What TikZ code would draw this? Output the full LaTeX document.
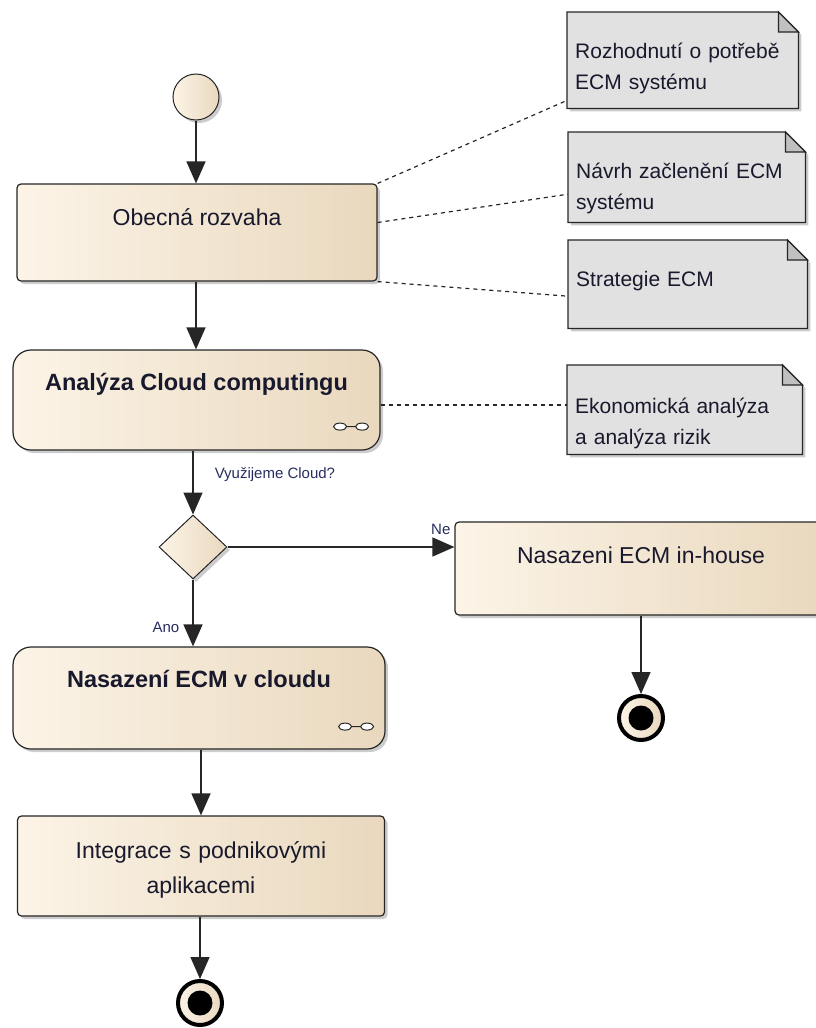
\documentclass[tikz,border=0pt]{standalone}
\usepackage{fontspec}
\setmainfont{Liberation Sans}
\usetikzlibrary{arrows.meta,shapes.geometric,shadows,backgrounds,positioning}
\definecolor{creamA}{RGB}{252,244,231}
\definecolor{creamB}{RGB}{233,216,190}
\definecolor{noteg}{RGB}{225,225,225}
\definecolor{foldg}{RGB}{192,192,192}
\definecolor{edge}{RGB}{38,38,38}
\definecolor{ink}{RGB}{25,25,45}
\definecolor{lblc}{RGB}{40,45,95}
\def\rake{ellipse (6.5 and 3.5) ++(6.5,0) -- ++(9,0) ++(6.5,0) ellipse (6.5 and 3.5)}
\def\notebg#1{\begin{scope}[on background layer]
    \path[notebody] (#1.south west) |- ([xshift=-20pt]#1.north east) -- ([yshift=-20pt]#1.north east) -- (#1.south east) -- cycle;
    \path[draw=edge,fill=foldg,line width=1.2pt] ([xshift=-20pt]#1.north east) |- ([yshift=-20pt]#1.north east) -- cycle;
  \end{scope}}

\begin{document}
\begin{tikzpicture}[x=1pt,y=-1pt,
    shade/.style={drop shadow={shadow xshift=3pt,shadow yshift=-3pt,opacity=.4}},
    act/.style={draw=edge,line width=1.2pt,left color=creamA,middle color=creamA!70!creamB,right color=creamB,shade,
      rounded corners=4pt,inner ysep=0pt,font=\fontsize{23}{35}\selectfont,text=ink},
    bold/.style={font=\bfseries\fontsize{23.5}{35}\selectfont},
    init/.style={circle,draw=edge,line width=1pt,left color=creamA,right color=creamB,minimum size=46pt,inner sep=0pt,shade},
    stop/.style={circle,draw=black,line width=4pt,left color=creamA,right color=creamB,minimum size=44pt,inner sep=0pt,
      path picture={\fill[black] (path picture bounding box.center) circle (12.5pt);}},
    choice/.style={diamond,draw=edge,line width=1pt,left color=creamA,right color=creamB,minimum width=68pt,minimum height=64pt,inner sep=0pt,shade},
    note/.style={inner xsep=8pt,inner ysep=0pt,anchor=north west,align=left,font=\fontsize{21}{31}\selectfont,text=ink},
    notebody/.style={fill=noteg,draw=edge,line width=1.2pt,shade},
    flow/.style={draw=edge,line width=1.5pt,-{Triangle[length=22pt,width=19pt]}},
    link/.style={draw=edge,line width=1.2pt,dash pattern=on 4pt off 4pt},
    rakes/.style={draw=edge,line width=1pt,fill=white},
    lbl/.style={font=\fontsize{15}{18}\selectfont,text=lblc,inner sep=1pt}]
    \path[use as bounding box,clip] (0,0) rectangle (816,1028);
    \node[init] (start) at (196,97) {};
    \node[act,minimum width=360pt,text height=41pt,text depth=56pt] (obec) at (197,232.5) {Obecná rozvaha};
    \node[act,bold,rounded corners=18pt,minimum width=367pt,text height=40pt,text depth=60pt] (ana) at (196.5,400) {Analýza Cloud computingu};
    \node[choice] (dec) at (193,547) {};
    \node[act,minimum width=372pt,text height=41pt,text depth=52pt] (inh) at (641,568.5) {Nasazeni ECM in-house};
    \node[act,bold,rounded corners=18pt,minimum width=372pt,text height=40pt,text depth=62pt] (cloud) at (199,698) {Nasazení ECM v cloudu};
    \node[act,minimum width=367pt,text width=330pt,align=center,text height=42pt,text depth=58pt] (integ) at (201,866) {Integrace s podnikovými\\aplikacemi};
    \node[stop] (end1) at (641,718) {};
    \node[stop] (end2) at (200,1003) {};
    \node[note,text width=215pt,text height=46pt,text depth=50pt] (n1) at (567,12) {Rozhodnutí o potřebě\\ECM systému};
    \node[note,text width=221pt,text height=46pt,text depth=44pt] (n2) at (568,132) {Návrh začlenění ECM\\systému};
    \node[note,text width=223pt,text height=46pt,text depth=42pt] (n3) at (568,240) {Strategie ECM};
    \node[note,text width=219pt,text height=48pt,text depth=41pt] (n4) at (567,365) {Ekonomická analýza\\a analýza rizik};
    \foreach \n in {n1,n2,n3,n4} {\notebg{\n}}
    \draw[flow] (start) -- (start |- obec.north);
    \draw[flow] (start |- obec.south) -- (start |- ana.north);
    \draw[flow] (dec |- ana.south) -- node[lbl,pos=.38,anchor=west,xshift=20pt] (ask) {Využijeme Cloud?} (dec.north);
    \draw[flow] (dec.east) -- node[lbl,pos=.94,above=11pt] (no) {Ne} (dec.east -| inh.west);
    \draw[flow] (dec.south) -- node[lbl,pos=.72,left=12pt] (yes) {Ano} (dec |- cloud.north);
    \draw[flow] (end1 |- inh.south) -- (end1);
    \draw[flow] (integ |- cloud.south) -- (integ.north);
    \draw[flow] (end2 |- integ.south) -- (end2);
    \draw[link] (obec.north east) -- ([yshift=8pt]n1.south west);
    \draw[link] ([yshift=10pt]obec.east) -- ([yshift=-17pt]n2.west);
    \draw[link] (obec.south east) -- ([yshift=-12pt]n3.west);
    \draw[link] ([yshift=-5pt]ana.east) -- ([yshift=-5pt]ana.east -| n4.west);
    \draw[rakes] ([shift={(-40.5,-24)}]ana.south east) \rake;
    \draw[rakes] ([shift={(-40.5,-23)}]cloud.south east) \rake;
\end{tikzpicture}
\end{document}
